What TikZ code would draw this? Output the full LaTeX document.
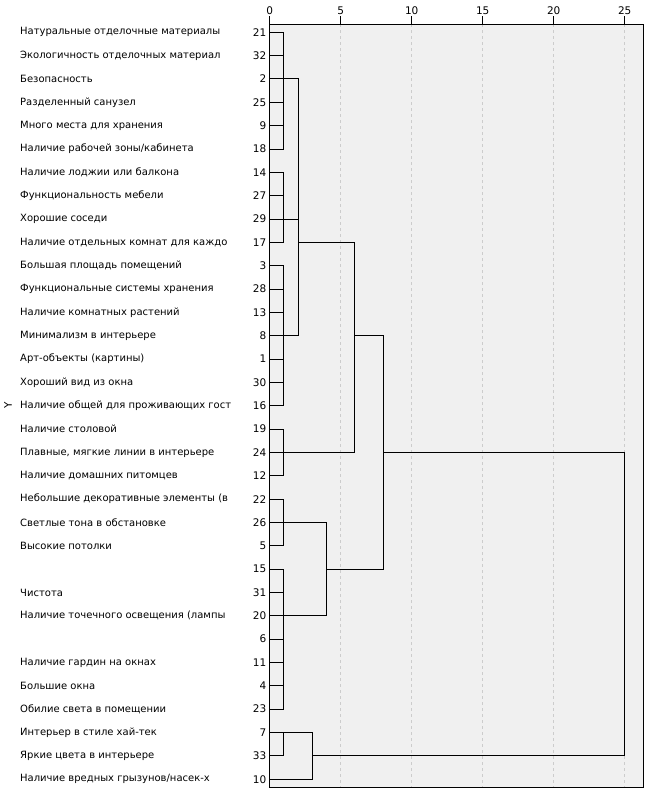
\documentclass[tikz,border=0pt]{standalone}
\usepackage{fontspec}
\setmainfont{DejaVu Sans}
\definecolor{bgc}{HTML}{F0F0F0}
\definecolor{gridc}{HTML}{CCCCCC}
\begin{document}
\begin{tikzpicture}[x=1pt,y=-1pt,
  dline/.style={line width=1pt,black,line cap=rect},
  gridline/.style={gridc,line width=0.8pt,dash pattern=on 2.5pt off 3.5pt},
  lab/.style={anchor=west,inner sep=0pt,font=\fontsize{10}{12}\selectfont},
  num/.style={anchor=east,inner sep=0pt,font=\fontsize{10.5}{12}\selectfont},
  axlab/.style={inner sep=0pt,font=\fontsize{10.5}{12}\selectfont}]
\useasboundingbox (0,0) rectangle (649,795);
\fill[bgc] (269.7,24) rectangle (643,787);
\foreach \k in {5,10,15,20,25}
  \draw[gridline] ({269.7+14.2*\k},24) -- ({269.7+14.2*\k},787);
\draw[line width=1pt] (269.7,24) rectangle (643,787);
\foreach \k in {0,5,10,15,20,25} {
  \coordinate (tk\k) at ({269.7+14.2*\k},24);
  \node[axlab] (ax\k) at ({269.7+14.2*\k},10.7) {\k};
  \draw[line width=1pt] (tk\k) -- ++(0,-8);
}
\node[axlab,rotate=90] (ylab) at (8,405.7) {Y};
\begin{scope}[shift={(269.7,32.3)},x=14.2pt,y=-23.34pt]
\foreach \r/\n in {0/21,1/32,2/2,3/25,4/9,5/18,6/14,7/27,8/29,9/17,10/3,11/28,12/13,13/8,14/1,15/30,16/16,17/19,18/24,19/12,20/22,21/26,22/5,23/15,24/31,25/20,26/6,27/11,28/4,29/23,30/7,31/33,32/10} {
  \coordinate (l\r) at (0,\r);
  \node[num] (n\r) at ([xshift=-3.2pt]l\r) {\n};
}
\foreach \r/\t in {0/{Натуральные отделочные материалы},1/{Экологичность отделочных материал},2/{Безопасность},3/{Разделенный санузел},4/{Много места для хранения},5/{Наличие рабочей зоны/кабинета},6/{Наличие лоджии или балкона},7/{Функциональность мебели},8/{Хорошие соседи},9/{Наличие отдельных комнат для каждо},10/{Большая площадь помещений},11/{Функциональные системы хранения},12/{Наличие комнатных растений},13/{Минимализм в интерьере},14/{Арт-объекты (картины)},15/{Хороший вид из окна},16/{Наличие общей для проживающих гост},17/{Наличие столовой},18/{Плавные, мягкие линии в интерьере},19/{Наличие домашних питомцев},20/{Небольшие декоративные элементы (в},21/{Светлые тона в обстановке},22/{Высокие потолки},24/{Чистота},25/{Наличие точечного освещения (лампы},27/{Наличие гардин на окнах},28/{Большие окна},29/{Обилие света в помещении},30/{Интерьер в стиле хай-тек},31/{Яркие цвета в интерьере},32/{Наличие вредных грызунов/насек-х}} {
  \node[lab] (t\r) at ([xshift=-249.7pt]l\r) {\t};
}
\coordinate (jA) at (1,2);
\coordinate (jB) at (1,8);
\coordinate (jC) at (1,13);
\coordinate (jD) at (1,18);
\coordinate (jE) at (1,21);
\coordinate (jF) at (1,25);
\coordinate (jG) at (1,30);
\coordinate (jABC) at (2,9);
\coordinate (jABCD) at (6,13);
\coordinate (jEF) at (4,23);
\coordinate (jL) at (8,18);
\coordinate (jGH) at (3,31);
\coordinate (root) at (25,24);
\foreach \a/\b/\j in {0/5/jA,6/9/jB,10/16/jC,17/19/jD,20/22/jE,23/29/jF,30/31/jG} {
  \foreach \r in {\a,...,\b} \draw[dline] (l\r) -- (l\r -| \j);
  \draw[dline] (l\a -| \j) -- (l\b -| \j);
}
\draw[dline] (jA) -- (jA -| jABC);
\draw[dline] (jB) -- (jB -| jABC);
\draw[dline] (jC) -- (jC -| jABC);
\draw[dline] (jA -| jABC) -- (jC -| jABC);
\draw[dline] (jABC) -- (jABC -| jABCD);
\draw[dline] (jD) -- (jD -| jABCD);
\draw[dline] (jABC -| jABCD) -- (jD -| jABCD);
\draw[dline] (jABCD) -- (jABCD -| jL);
\draw[dline] (jE) -- (jE -| jEF);
\draw[dline] (jF) -- (jF -| jEF);
\draw[dline] (jE -| jEF) -- (jF -| jEF);
\draw[dline] (jEF) -- (jEF -| jL);
\draw[dline] (jABCD -| jL) -- (jEF -| jL);
\draw[dline] (jG) -- (jG -| jGH);
\draw[dline] (l32) -- (l32 -| jGH);
\draw[dline] (jG -| jGH) -- (l32 -| jGH);
\draw[dline] (jL) -- (jL -| root) -- (jGH -| root) -- (jGH);
\end{scope}
\end{tikzpicture}
\end{document}
